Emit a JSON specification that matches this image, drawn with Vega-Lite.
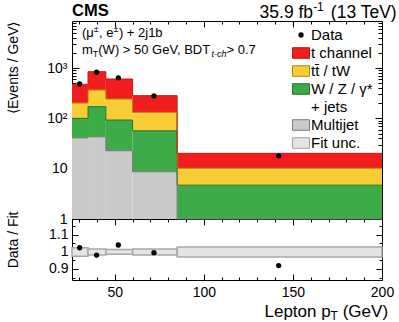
{
  "$schema": "https://vega.github.io/schema/vega-lite/v6.json",
  "width": 310,
  "height": 259,
  "autosize": {"type": "none"},
  "padding": {"left": 72, "top": 21, "right": 17, "bottom": 42},
  "background": "white",
  "config": {
    "font": "Liberation Sans",
    "view": {"stroke": "black", "strokeWidth": 1},
    "axis": {
      "grid": false, "domain": false, "tickColor": "black", "labelColor": "black",
      "titleColor": "black", "labelFont": "Liberation Sans", "titleFont": "Liberation Sans",
      "labelFontSize": 14, "titleFontSize": 14, "titleFontWeight": "normal", "tickWidth": 1,
      "domainColor": "black", "labelFlush": false, "labelOverlap": false
    }
  },
  "datasets": {
    "mc": [
      {"lo": 26, "hi": 35, "process": "Multijet", "events": 41},
      {"lo": 26, "hi": 35, "process": "W / Z / γ*", "events": 59},
      {"lo": 26, "hi": 35, "process": "tt\u0304 / tW", "events": 102},
      {"lo": 26, "hi": 35, "process": "t channel", "events": 275},
      {"lo": 35, "hi": 45, "process": "Multijet", "events": 43},
      {"lo": 35, "hi": 45, "process": "W / Z / γ*", "events": 128},
      {"lo": 35, "hi": 45, "process": "tt\u0304 / tW", "events": 196},
      {"lo": 35, "hi": 45, "process": "t channel", "events": 481},
      {"lo": 45, "hi": 60, "process": "Multijet", "events": 22.8},
      {"lo": 45, "hi": 60, "process": "W / Z / γ*", "events": 70},
      {"lo": 45, "hi": 60, "process": "tt\u0304 / tW", "events": 150},
      {"lo": 45, "hi": 60, "process": "t channel", "events": 364},
      {"lo": 60, "hi": 85, "process": "Multijet", "events": 8.7},
      {"lo": 60, "hi": 85, "process": "W / Z / γ*", "events": 48},
      {"lo": 60, "hi": 85, "process": "tt\u0304 / tW", "events": 75},
      {"lo": 60, "hi": 85, "process": "t channel", "events": 151},
      {"lo": 85, "hi": 200, "process": "Multijet", "events": 0.3},
      {"lo": 85, "hi": 200, "process": "W / Z / γ*", "events": 4.4},
      {"lo": 85, "hi": 200, "process": "tt\u0304 / tW", "events": 5.5},
      {"lo": 85, "hi": 200, "process": "t channel", "events": 10}
    ],
    "obs": [
      {"pt": 30.3, "events": 483, "ratio": 1.025},
      {"pt": 39.8, "events": 826, "ratio": 0.982},
      {"pt": 52, "events": 640, "ratio": 1.041},
      {"pt": 72, "events": 280, "ratio": 0.996},
      {"pt": 142, "events": 18, "ratio": 0.92}
    ],
    "unc": [
      {"lo": 26, "hi": 35, "down": 0.975, "up": 1.025},
      {"lo": 35, "hi": 45, "down": 0.982, "up": 1.018},
      {"lo": 45, "hi": 60, "down": 0.986, "up": 1.014},
      {"lo": 60, "hi": 85, "down": 0.982, "up": 1.018},
      {"lo": 85, "hi": 200, "down": 0.97, "up": 1.03}
    ]
  },
  "layer": [
    {
      "layer": [
        {
          "data": {"name": "mc"},
          "transform": [
            {"calculate": "indexof(['Multijet','W / Z / γ*','tt\u0304 / tW','t channel'], datum.process)", "as": "rank"},
            {"stack": "events", "groupby": ["lo"], "sort": [{"field": "rank", "order": "ascending"}], "as": ["y0", "y1"]},
            {"calculate": "max(datum.y0, 1)", "as": "base"},
            {"calculate": "max(datum.y1, 1)", "as": "top"}
          ],
          "mark": {"type": "rect"},
          "encoding": {
            "x": {"field": "lo", "type": "quantitative",
              "scale": {"domain": [26, 200], "nice": false, "zero": false},
              "axis": {"orient": "top", "values": [30,40,50,60,70,80,90,100,110,120,130,140,150,160,170,180,190,200],
                "labels": false, "title": null,
                "tickSize": {"condition": {"test": "datum.value % 50 === 0", "value": -6}, "value": -3}}},
            "x2": {"field": "hi"},
            "y": {"field": "top", "type": "quantitative",
              "scale": {"type": "log", "domain": [1, 8630], "range": [198, 0], "nice": false},
              "axis": {"orient": "left",
                "values": [1,2,3,4,5,6,7,8,9,10,20,30,40,50,60,70,80,90,100,200,300,400,500,600,700,800,900,1000,2000,3000,4000,5000,6000,7000,8000],
                "labelExpr": "datum.value === 1 ? '1' : datum.value === 10 ? '10' : datum.value === 100 ? '10²' : datum.value === 1000 ? '10³' : ''",
                "tickSize": {"condition": {"test": "datum.value === 1 || datum.value === 10 || datum.value === 100 || datum.value === 1000", "value": -7}, "value": -4},
                "labelPadding": 12,
                "title": "⟨Events / GeV⟩", "titleAnchor": "end", "titleX": -59, "titleBaseline": "middle"}},
            "y2": {"field": "base"},
            "fill": {"field": "process", "type": "nominal",
              "scale": {"domain": ["Data", "t channel", "tt\u0304 / tW", "W / Z / γ*", "+ jets", "Multijet", "Fit unc."],
                "range": ["#000000", "#f21d1d", "#f8cd35", "#3dab48", "#ffffff", "#cacaca", "#e4e4e4"]},
              "legend": {
                "orient": "none", "legendX": 220, "legendY": 5, "title": null,
                "labelFont": "Liberation Sans", "labelFontSize": 15, "labelColor": "black",
                "symbolSize": 100, "rowPadding": 1, "labelOffset": 1,
                "encode": {"symbols": {"update": {
                  "shape": {"signal": "datum.value === 'Data' ? 'circle' : 'M-1,-0.62H1V0.62H-1Z'"},
                  "size": {"signal": "datum.value === 'Data' ? 28 : 289"},
                  "stroke": {"signal": "datum.value === 't channel' ? '#b41515' : indexof(datum.value, 'tW') >= 0 ? '#a8861c' : indexof(datum.value, 'Z') >= 0 ? '#2a6f2e' : datum.value === 'Multijet' ? '#7a7a7a' : datum.value === 'Fit unc.' ? '#a0a0a0' : 'transparent'"},
                  "strokeWidth": {"value": 1},
                  "opacity": {"signal": "datum.value === '+ jets' ? 0 : 1"}
                }}}
              }}
          }
        },
        {
          "data": {"name": "mc"},
          "transform": [
            {"calculate": "indexof(['Multijet','W / Z / γ*','tt\u0304 / tW','t channel'], datum.process)", "as": "rank"},
            {"stack": "events", "groupby": ["lo"], "sort": [{"field": "rank", "order": "ascending"}], "as": ["y0", "y1"]},
            {"calculate": "max(datum.y1, 1)", "as": "top"}
          ],
          "mark": {"type": "rule", "strokeWidth": 1},
          "encoding": {
            "x": {"field": "lo", "type": "quantitative",
              "axis": {"orient": "bottom", "offset": -61, "values": [30,40,50,60,70,80,90,100,110,120,130,140,150,160,170,180,190,200],
                "labels": false, "title": null, "domain": true,
                "tickSize": {"condition": {"test": "datum.value % 50 === 0", "value": -6}, "value": -3}}},
            "x2": {"field": "hi"},
            "y": {"field": "top", "type": "quantitative",
              "axis": {"orient": "right",
                "values": [1,2,3,4,5,6,7,8,9,10,20,30,40,50,60,70,80,90,100,200,300,400,500,600,700,800,900,1000,2000,3000,4000,5000,6000,7000,8000],
                "labels": false, "title": null,
                "tickSize": {"condition": {"test": "datum.value === 1 || datum.value === 10 || datum.value === 100 || datum.value === 1000", "value": -7}, "value": -4}}},
            "stroke": {"field": "process", "type": "nominal",
              "scale": {"domain": ["t channel", "tt\u0304 / tW", "W / Z / γ*", "Multijet"], "range": ["#c41818", "#a8861c", "#2a6f2e", "#7a7a7a"]},
              "legend": null}
          }
        },
        {
          "data": {"name": "mc"},
          "transform": [
            {"calculate": "indexof(['Multijet','W / Z / γ*','tt\u0304 / tW','t channel'], datum.process)", "as": "rank"},
            {"stack": "events", "groupby": ["lo"], "sort": [{"field": "rank", "order": "ascending"}], "as": ["y0", "y1"]},
            {"calculate": "max(datum.y1, 1)", "as": "top"},
            {"window": [{"op": "lag", "field": "top", "as": "prev"}], "groupby": ["process"], "sort": [{"field": "lo", "order": "ascending"}]},
            {"filter": "datum.prev != null"}
          ],
          "mark": {"type": "rule", "strokeWidth": 1},
          "encoding": {
            "x": {"field": "lo", "type": "quantitative", "axis": null},
            "y": {"field": "prev", "type": "quantitative", "axis": null},
            "y2": {"field": "top"},
            "stroke": {"field": "process", "type": "nominal", "legend": null}
          }
        },
        {
          "data": {"name": "obs"},
          "mark": {"type": "point", "filled": true, "color": "black", "size": 28, "opacity": 1},
          "encoding": {
            "x": {"field": "pt", "type": "quantitative", "axis": null},
            "y": {"field": "events", "type": "quantitative", "axis": null}
          }
        },
        {
          "data": {"values": [{}]},
          "mark": {"type": "text", "align": "left", "baseline": "alphabetic", "fontSize": 16.5, "fontWeight": "bold", "font": "Liberation Sans"},
          "encoding": {"x": {"datum": 26, "type": "quantitative", "axis": null}, "y": {"datum": 11000, "type": "quantitative", "axis": null}, "text": {"value": "CMS"}}
        },
        {
          "data": {"values": [{}]},
          "mark": {"type": "text", "align": "right", "baseline": "alphabetic", "fontSize": 17.5, "font": "Liberation Sans"},
          "encoding": {"x": {"datum": 208.25, "type": "quantitative", "axis": null}, "y": {"datum": 9767, "type": "quantitative", "axis": null}, "text": {"value": " (13 TeV)"}}
        },
        {
          "data": {"values": [{}]},
          "mark": {"type": "text", "align": "right", "baseline": "alphabetic", "fontSize": 12, "font": "Liberation Sans", "dx": -72.9, "dy": -7},
          "encoding": {"x": {"datum": 208.25, "type": "quantitative", "axis": null}, "y": {"datum": 9767, "type": "quantitative", "axis": null}, "text": {"value": "-1"}}
        },
        {
          "data": {"values": [{}]},
          "mark": {"type": "text", "align": "right", "baseline": "alphabetic", "fontSize": 17.5, "font": "Liberation Sans", "dx": -83.6},
          "encoding": {"x": {"datum": 208.25, "type": "quantitative", "axis": null}, "y": {"datum": 9767, "type": "quantitative", "axis": null}, "text": {"value": "35.9 fb"}}
        },
        {
          "data": {"values": [{}]},
          "mark": {"type": "text", "align": "left", "baseline": "alphabetic", "fontSize": 13, "font": "Liberation Sans"},
          "encoding": {"x": {"datum": 31.6, "type": "quantitative", "axis": null}, "y": {"datum": 4150, "type": "quantitative", "axis": null}, "text": {"value": "(μ"}}
        },
        {
          "data": {"values": [{}]},
          "mark": {"type": "text", "align": "left", "baseline": "alphabetic", "fontSize": 9, "font": "Liberation Sans", "dx": 11.8, "dy": -5},
          "encoding": {"x": {"datum": 31.6, "type": "quantitative", "axis": null}, "y": {"datum": 4150, "type": "quantitative", "axis": null}, "text": {"value": "±"}}
        },
        {
          "data": {"values": [{}]},
          "mark": {"type": "text", "align": "left", "baseline": "alphabetic", "fontSize": 13, "font": "Liberation Sans", "dx": 17.1},
          "encoding": {"x": {"datum": 31.6, "type": "quantitative", "axis": null}, "y": {"datum": 4150, "type": "quantitative", "axis": null}, "text": {"value": ", e"}}
        },
        {
          "data": {"values": [{}]},
          "mark": {"type": "text", "align": "left", "baseline": "alphabetic", "fontSize": 9, "font": "Liberation Sans", "dx": 31.6, "dy": -5},
          "encoding": {"x": {"datum": 31.6, "type": "quantitative", "axis": null}, "y": {"datum": 4150, "type": "quantitative", "axis": null}, "text": {"value": "±"}}
        },
        {
          "data": {"values": [{}]},
          "mark": {"type": "text", "align": "left", "baseline": "alphabetic", "fontSize": 13, "font": "Liberation Sans", "dx": 36.9},
          "encoding": {"x": {"datum": 31.6, "type": "quantitative", "axis": null}, "y": {"datum": 4150, "type": "quantitative", "axis": null}, "text": {"value": ") + 2j1b"}}
        },
        {
          "data": {"values": [{}]},
          "mark": {"type": "text", "align": "left", "baseline": "alphabetic", "fontSize": 13, "font": "Liberation Sans"},
          "encoding": {"x": {"datum": 31.6, "type": "quantitative", "axis": null}, "y": {"datum": 1905, "type": "quantitative", "axis": null}, "text": {"value": "m"}}
        },
        {
          "data": {"values": [{}]},
          "mark": {"type": "text", "align": "left", "baseline": "alphabetic", "fontSize": 9, "font": "Liberation Sans", "dx": 10.8, "dy": 3},
          "encoding": {"x": {"datum": 31.6, "type": "quantitative", "axis": null}, "y": {"datum": 1905, "type": "quantitative", "axis": null}, "text": {"value": "T"}}
        },
        {
          "data": {"values": [{}]},
          "mark": {"type": "text", "align": "left", "baseline": "alphabetic", "fontSize": 13, "font": "Liberation Sans", "dx": 16.3},
          "encoding": {"x": {"datum": 31.6, "type": "quantitative", "axis": null}, "y": {"datum": 1905, "type": "quantitative", "axis": null}, "text": {"value": "(W) > 50 GeV, BDT"}}
        },
        {
          "data": {"values": [{}]},
          "mark": {"type": "text", "align": "left", "baseline": "alphabetic", "fontSize": 9, "fontStyle": "italic", "font": "Liberation Sans", "dx": 129.5, "dy": 3},
          "encoding": {"x": {"datum": 31.6, "type": "quantitative", "axis": null}, "y": {"datum": 1905, "type": "quantitative", "axis": null}, "text": {"value": "t-ch"}}
        },
        {
          "data": {"values": [{}]},
          "mark": {"type": "text", "align": "left", "baseline": "alphabetic", "fontSize": 13, "font": "Liberation Sans", "dx": 144.5},
          "encoding": {"x": {"datum": 31.6, "type": "quantitative", "axis": null}, "y": {"datum": 1905, "type": "quantitative", "axis": null}, "text": {"value": " > 0.7"}}
        }
      ],
      "resolve": {"axis": {"x": "independent", "y": "independent"}}
    },
    {
      "layer": [
        {
          "data": {"name": "unc"},
          "mark": {"type": "rect", "fill": "#e4e4e4", "stroke": "#a8a8a8", "strokeWidth": 1.5},
          "encoding": {
            "x": {"field": "lo", "type": "quantitative",
              "axis": {"orient": "bottom", "values": [30,40,50,60,70,80,90,100,110,120,130,140,150,160,170,180,190,200],
                "labelExpr": "datum.value % 50 === 0 ? datum.label : ''", "title": null, "labelPadding": 11,
                "tickSize": {"condition": {"test": "datum.value % 50 === 0", "value": -6}, "value": -3}}},
            "x2": {"field": "hi"},
            "y": {"field": "up", "type": "quantitative",
              "scale": {"domain": [0.8353, 1.194], "range": [259, 198], "nice": false, "zero": false},
              "axis": {"orient": "left", "values": [0.85, 0.9, 0.95, 1, 1.05, 1.1, 1.15],
                "labelExpr": "abs(datum.value - 0.9) < 0.001 ? '0.9' : abs(datum.value - 1) < 0.001 ? '1' : abs(datum.value - 1.1) < 0.001 ? '1.1' : ''",
                "tickSize": {"condition": {"test": "abs(datum.value * 10 - round(datum.value * 10)) < 0.001", "value": -6}, "value": -3},
                "labelPadding": 10,
                "title": "Data / Fit", "titleAnchor": "end", "titleX": -59, "titleY": 190, "titleBaseline": "middle"}},
            "y2": {"field": "down"}
          }
        },
        {
          "data": {"name": "obs"},
          "mark": {"type": "point", "filled": true, "color": "black", "size": 28, "opacity": 1},
          "encoding": {
            "x": {"field": "pt", "type": "quantitative",
              "axis": {"orient": "top", "offset": -198, "values": [30,40,50,60,70,80,90,100,110,120,130,140,150,160,170,180,190,200],
                "labels": false, "title": null,
                "tickSize": {"condition": {"test": "datum.value % 50 === 0", "value": -6}, "value": -3}}},
            "y": {"field": "ratio", "type": "quantitative",
              "axis": {"orient": "right", "values": [0.85, 0.9, 0.95, 1, 1.05, 1.1, 1.15], "labels": false, "title": null,
                "tickSize": {"condition": {"test": "abs(datum.value * 10 - round(datum.value * 10)) < 0.001", "value": -6}, "value": -3}}}
          }
        },
        {
          "data": {"values": [{}]},
          "mark": {"type": "text", "align": "right", "baseline": "alphabetic", "fontSize": 17, "font": "Liberation Sans"},
          "encoding": {"x": {"datum": 203.4, "type": "quantitative", "axis": null}, "y": {"datum": 0.6194, "type": "quantitative", "axis": null}, "text": {"value": " (GeV)"}}
        },
        {
          "data": {"values": [{}]},
          "mark": {"type": "text", "align": "right", "baseline": "alphabetic", "fontSize": 12, "font": "Liberation Sans", "dx": -50.1, "dy": 3},
          "encoding": {"x": {"datum": 203.4, "type": "quantitative", "axis": null}, "y": {"datum": 0.6194, "type": "quantitative", "axis": null}, "text": {"value": "T"}}
        },
        {
          "data": {"values": [{}]},
          "mark": {"type": "text", "align": "right", "baseline": "alphabetic", "fontSize": 17, "font": "Liberation Sans", "dx": -57.4},
          "encoding": {"x": {"datum": 203.4, "type": "quantitative", "axis": null}, "y": {"datum": 0.6194, "type": "quantitative", "axis": null}, "text": {"value": "Lepton p"}}
        }
      ],
      "resolve": {"axis": {"x": "independent", "y": "independent"}}
    }
  ],
  "resolve": {"scale": {"y": "independent"}, "axis": {"x": "independent", "y": "independent"}}
}
